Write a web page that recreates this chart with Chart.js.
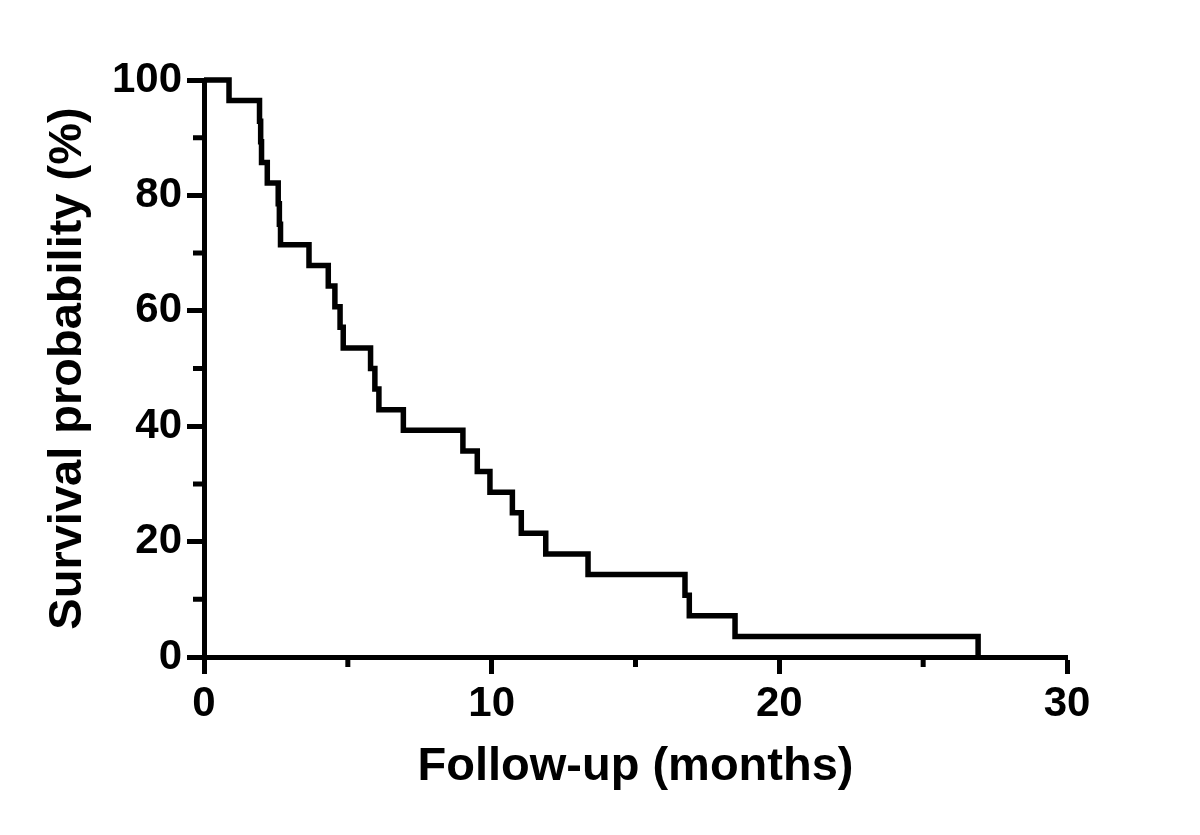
<!DOCTYPE html>
<html>
<head>
<meta charset="utf-8">
<title>Survival probability</title>
<script src="https://cdn.jsdelivr.net/npm/chart.js"></script>
<style>
  html, body { margin: 0; padding: 0; background: #fff; }
  #wrap { width: 1200px; height: 835px; }
</style>
</head>
<body>
<div id="wrap"><canvas id="kmChart" width="1200" height="835"></canvas></div>
<script>
// Kaplan-Meier curve (time in months, survival in %)
const times = [0, 0.87, 1.93, 1.97, 2.0, 2.2, 2.58, 2.62, 2.66, 3.65, 4.32, 4.55, 4.73, 4.84,
               5.79, 5.94, 6.08, 6.93, 9.0, 9.5, 9.94, 10.72, 11.03, 11.88, 13.35, 16.72, 16.87, 18.46, 26.91];
const survival = [100, 96.43, 92.86, 89.29, 85.71, 82.14, 78.57, 75.0, 71.43, 67.86, 64.29, 60.71, 57.14, 53.57,
                  50.0, 46.43, 42.86, 39.29, 35.71, 32.14, 28.57, 25.0, 21.43, 17.86, 14.29, 10.71, 7.14, 3.57, 0];
const xMinorTicks = [5, 15, 25];
const yMinorTicks = [10, 30, 50, 70, 90];

const points = times.map(function(t, i) { return { x: t, y: survival[i] }; });

const FONT = '"Liberation Sans", Arial, Helvetica, sans-serif';

// shorter minor tick marks, placed with the chart's own scales
const minorTicks = {
  id: 'minorTicks',
  afterDraw: function(chart) {
    const ctx = chart.ctx;
    const xs = chart.scales.x, ys = chart.scales.y;
    const left = chart.chartArea.left, bottom = chart.chartArea.bottom;
    ctx.save();
    ctx.strokeStyle = '#000';
    ctx.lineWidth = 5;
    ctx.beginPath();
    yMinorTicks.forEach(function(v) {
      const py = ys.getPixelForValue(v);
      ctx.moveTo(left - 11, py);
      ctx.lineTo(left, py);
    });
    xMinorTicks.forEach(function(v) {
      const px = xs.getPixelForValue(v);
      ctx.moveTo(px, bottom);
      ctx.lineTo(px, bottom + 10);
    });
    ctx.stroke();
    ctx.restore();
  }
};

new Chart(document.getElementById('kmChart'), {
  type: 'line',
  data: {
    datasets: [{
      data: points,
      stepped: 'before',
      borderColor: '#000',
      borderWidth: 5.5,
      pointRadius: 0,
      fill: false,
      clip: false
    }]
  },
  options: {
    responsive: false,
    animation: false,
    layout: { padding: { left: 0, top: 80, right: 133, bottom: 0 } },
    plugins: { legend: { display: false }, tooltip: { enabled: false } },
    scales: {
      x: {
        type: 'linear',
        min: 0,
        max: 30,
        afterFit: function(s) { s.height = 178; },
        border: { display: true, color: '#000', width: 5 },
        grid: { drawOnChartArea: false, tickLength: 17, tickWidth: 5, tickColor: '#000' },
        ticks: { stepSize: 10, color: '#000', padding: 5, font: { family: FONT, size: 42, weight: 'bold' } },
        title: {
          display: true,
          text: 'Follow-up (months)',
          color: '#000',
          padding: { top: 40, bottom: 40 },
          font: { family: FONT, size: 47, weight: 'bold' }
        }
      },
      y: {
        type: 'linear',
        min: 0,
        max: 100,
        afterFit: function(s) { s.width = 204; },
        border: { display: true, color: '#000', width: 5 },
        grid: { drawOnChartArea: false, tickLength: 17, tickWidth: 5, tickColor: '#000' },
        ticks: { stepSize: 20, color: '#000', padding: 5, font: { family: FONT, size: 42, weight: 'bold' } },
        title: {
          display: true,
          text: 'Survival probability (%)',
          color: '#000',
          padding: { top: 40, bottom: 40 },
          font: { family: FONT, size: 47, weight: 'bold' }
        }
      }
    }
  },
  plugins: [minorTicks]
});
</script>
</body>
</html>
